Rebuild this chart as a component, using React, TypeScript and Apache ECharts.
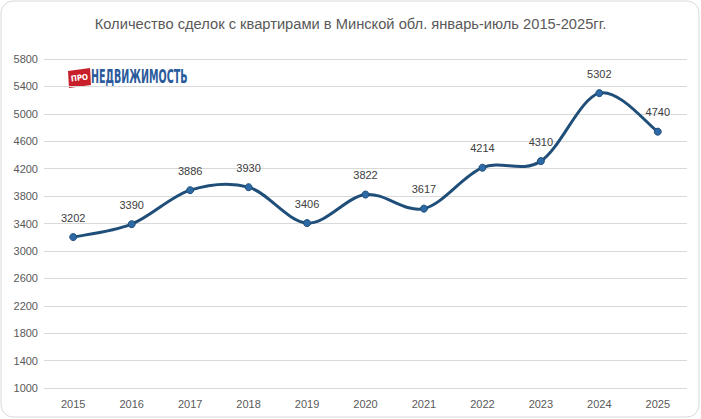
import React, { useEffect, useRef } from "react";
import * as echarts from "echarts";

const years = ["2015", "2016", "2017", "2018", "2019", "2020", "2021", "2022", "2023", "2024", "2025"];
const deals = [3202, 3390, 3886, 3930, 3406, 3822, 3617, 4214, 4310, 5302, 4740];
const titleText = "Количество сделок с квартирами в Минской обл. январь-июль 2015-2025гг.";
const logoTag = "ПРО";
const logoName = "НЕДВИЖИМОСТЬ";

const FONT = "Liberation Sans, Arial, sans-serif";

export default function App() {
  const ref = useRef<HTMLDivElement>(null);
  useEffect(() => {
    document.body.style.margin = "0";
    const chart = echarts.init(ref.current!, null, { renderer: "svg" });

    const renderCurve = (params: any, api: any) => {
      const pts = deals.map((v, i) => api.coord([i, v]));
      const n = pts.length;
      const t = 1 / 6;
      let d = `M${pts[0][0]},${pts[0][1]}`;
      for (let i = 0; i < n - 1; i++) {
        const p0 = pts[Math.max(i - 1, 0)];
        const p1 = pts[i];
        const p2 = pts[i + 1];
        const p3 = pts[Math.min(i + 2, n - 1)];
        const c1x = p1[0] + (p2[0] - p0[0]) * t;
        const c1y = p1[1] + (p2[1] - p0[1]) * t;
        const c2x = p2[0] - (p3[0] - p1[0]) * t;
        const c2y = p2[1] - (p3[1] - p1[1]) * t;
        d += ` C${c1x},${c1y} ${c2x},${c2y} ${p2[0]},${p2[1]}`;
      }
      return {
        type: "path",
        shape: { pathData: d },
        style: { stroke: "#1f4e79", lineWidth: 3, fill: "none", lineJoin: "round" },
      };
    };

    chart.setOption({
      animation: false,
      backgroundColor: "#ffffff",
      title: {
        text: titleText,
        left: "center",
        top: 11,
        textStyle: {
          fontFamily: FONT,
          fontSize: 14.7,
          fontWeight: "normal",
          color: "#595959",
        },
      },
      grid: { left: 44, right: 14, top: 59, bottom: 31, containLabel: false },
      xAxis: {
        type: "category",
        data: years,
        boundaryGap: true,
        axisLine: { show: false },
        axisTick: { show: false },
        axisLabel: { margin: 10, fontFamily: FONT, fontSize: 11, color: "#595959" },
      },
      yAxis: {
        type: "value",
        min: 1000,
        max: 5800,
        interval: 400,
        axisLine: { show: false },
        axisTick: { show: false },
        axisLabel: {
          margin: 6,
          fontFamily: FONT,
          fontSize: 11,
          color: "#595959",
          formatter: (v: number) => String(v),
        },
        splitLine: { lineStyle: { color: "#d9d9d9", width: 1 } },
      },
      series: [
        {
          type: "custom",
          coordinateSystem: "cartesian2d",
          renderItem: renderCurve,
          data: [[0, deals[0]]],
          silent: true,
          z: 2,
        },
        {
          type: "scatter",
          data: deals,
          symbol: "circle",
          symbolSize: 7,
          itemStyle: { color: "#2e6aa6", borderColor: "#1f4e79", borderWidth: 1, opacity: 1 },
          label: {
            show: true,
            position: "top",
            distance: 10,
            fontFamily: FONT,
            fontSize: 11,
            color: "#404040",
          },
          z: 3,
        },
      ],
      graphic: [
        {
          type: "rect",
          shape: { x: 1, y: 1, width: 698, height: 416, r: 12 },
          style: { fill: "none", stroke: "#d9d9d9", lineWidth: 1 },
          silent: true,
          z: 100,
        },
        {
          type: "group",
          x: 68,
          y: 68,
          children: [
            {
              type: "polygon",
              shape: { points: [[0, 3], [22, 0], [23, 17], [1, 20]] },
              style: { fill: "#c8202a" },
            },
            {
              type: "text",
              x: 11.5,
              y: 10,
              rotation: 0.12,
              style: {
                text: logoTag,
                fill: "#ffffff",
                fontFamily: "DejaVu Sans Condensed, Liberation Sans Narrow, sans-serif",
                fontWeight: "bold",
                fontSize: 8,
                align: "center",
                verticalAlign: "middle",
              },
            },
            {
              type: "text",
              x: 23,
              y: 9,
              scaleX: 0.56,
              style: {
                text: logoName,
                fill: "#2a5b9c",
                fontFamily: "DejaVu Sans Condensed, Liberation Sans Narrow, sans-serif",
                fontWeight: "bold",
                fontSize: 19,
                align: "left",
                verticalAlign: "middle",
              },
            },
          ],
        },
      ],
    });
    return () => chart.dispose();
  }, []);
  return (
    <div
      ref={ref}
      style={{ position: "fixed", left: 0, top: 0, width: 701, height: 419 }}
    />
  );
}
